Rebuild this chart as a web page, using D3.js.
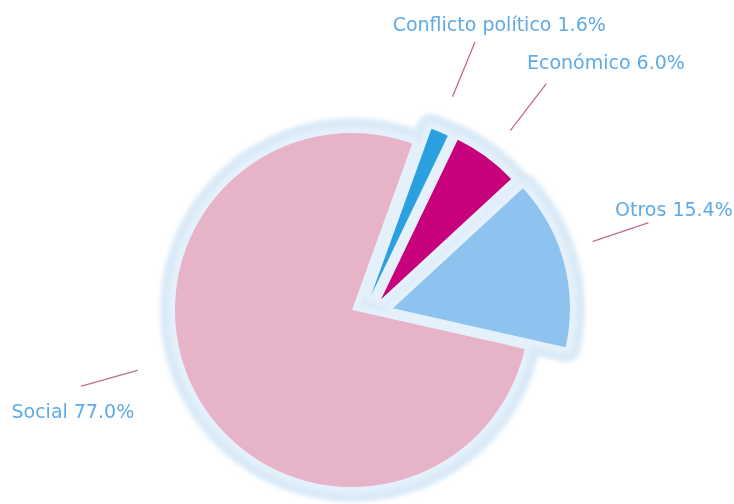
<!DOCTYPE html>
<html>
<head>
<meta charset="utf-8">
<script src="https://cdn.jsdelivr.net/npm/d3@7"></script>
<style>
  html, body { margin: 0; padding: 0; background: #ffffff; }
  svg { display: block; }
</style>
</head>
<body>
<svg id="chart" width="734" height="504"></svg>
<script>
// Distribución por tipo de conflicto (%)
const categories = ["Conflicto político", "Económico", "Otros", "Social"];
const shares = [1.6, 6.0, 15.4, 77.0];
const sliceColors = ["#2ba0e1", "#c7007b", "#8dc3ee", "#e6b3c8"];

// How far each wedge is pulled out: along its bisector and sideways (clockwise), px
const pullRadial = [21, 26, 40, 0];
const pullSide = [12, 17, 9, 0];

// Leader lines: direction tweak (deg) and start radius from the wedge apex
const leaderTurn = [-0.5, 1, -3.5, 13];
const leaderStart = [215, 213, 211, 223];
const leaderLength = 58;
// Label offset from the outer end of its leader line
const labelDx = [-82, -19, -33, -70];
const labelDy = [-12, -15, -7, 32];

const width = 734, height = 504;
const cx = 352, cy = 310, R = 177;
const start = 19.9 * Math.PI / 180;

const svg = d3.select("#chart");
const defs = svg.append("defs");
defs.append("filter")
  .attr("id", "soft")
  .attr("x", "-20%").attr("y", "-20%").attr("width", "140%").attr("height", "140%")
  .append("feGaussianBlur").attr("stdDeviation", 2.2);
defs.append("filter")
  .attr("id", "softText")
  .append("feGaussianBlur").attr("stdDeviation", 0.45);

const pie = d3.pie().sort(null).value(d => d)
  .startAngle(start).endAngle(start + 2 * Math.PI);
const slices = pie(shares);
const arc = d3.arc().innerRadius(0).outerRadius(R);

function pull(d, i) {
  const m = (d.startAngle + d.endAngle) / 2;
  const ux = Math.sin(m), uy = -Math.cos(m);
  const tx = Math.cos(m), ty = Math.sin(m);
  return [pullRadial[i] * ux + pullSide[i] * tx, pullRadial[i] * uy + pullSide[i] * ty];
}

const g = svg.append("g").attr("transform", `translate(${cx},${cy})`);

// Pale blue halo around every wedge
const halo = g.append("g").attr("filter", "url(#soft)");
halo.selectAll("path.halo-outer")
  .data(slices).join("path")
  .attr("class", "halo-outer")
  .attr("d", arc)
  .attr("transform", (d, i) => `translate(${pull(d, i)})`)
  .attr("fill", "#d9eaf7")
  .attr("stroke", "#d9eaf7")
  .attr("stroke-width", 30)
  .attr("stroke-linejoin", "round");
halo.selectAll("path.halo-inner")
  .data(slices).join("path")
  .attr("class", "halo-inner")
  .attr("d", arc)
  .attr("transform", (d, i) => `translate(${pull(d, i)})`)
  .attr("fill", "#e5f1fa")
  .attr("stroke", "#e5f1fa")
  .attr("stroke-width", 12)
  .attr("stroke-linejoin", "round");

// Wedges
g.selectAll("path.slice")
  .data(slices).join("path")
  .attr("class", "slice")
  .attr("d", arc)
  .attr("transform", (d, i) => `translate(${pull(d, i)})`)
  .attr("fill", (d, i) => sliceColors[i]);

// Leader lines and labels
const fmt = d3.format(".1f");
slices.forEach((d, i) => {
  const [ox, oy] = pull(d, i);
  const a = (d.startAngle + d.endAngle) / 2 + leaderTurn[i] * Math.PI / 180;
  const sx = Math.sin(a), sy = -Math.cos(a);
  const r0 = leaderStart[i], r1 = leaderStart[i] + leaderLength;
  const x0 = ox + sx * r0, y0 = oy + sy * r0;
  const x1 = ox + sx * r1, y1 = oy + sy * r1;
  g.append("line")
    .attr("x1", x0).attr("y1", y0).attr("x2", x1).attr("y2", y1)
    .attr("stroke", "#bf6d95")
    .attr("stroke-width", 1.3)
    .attr("stroke-linecap", "round");
  g.append("text")
    .attr("x", x1 + labelDx[i])
    .attr("y", y1 + labelDy[i])
    .attr("font-family", "'DejaVu Sans', sans-serif")
    .attr("font-size", 19)
    .attr("fill", "#5eaae6")
    .attr("filter", "url(#softText)")
    .text(`${categories[i]} ${fmt(shares[i])}%`);
});
</script>
</body>
</html>
